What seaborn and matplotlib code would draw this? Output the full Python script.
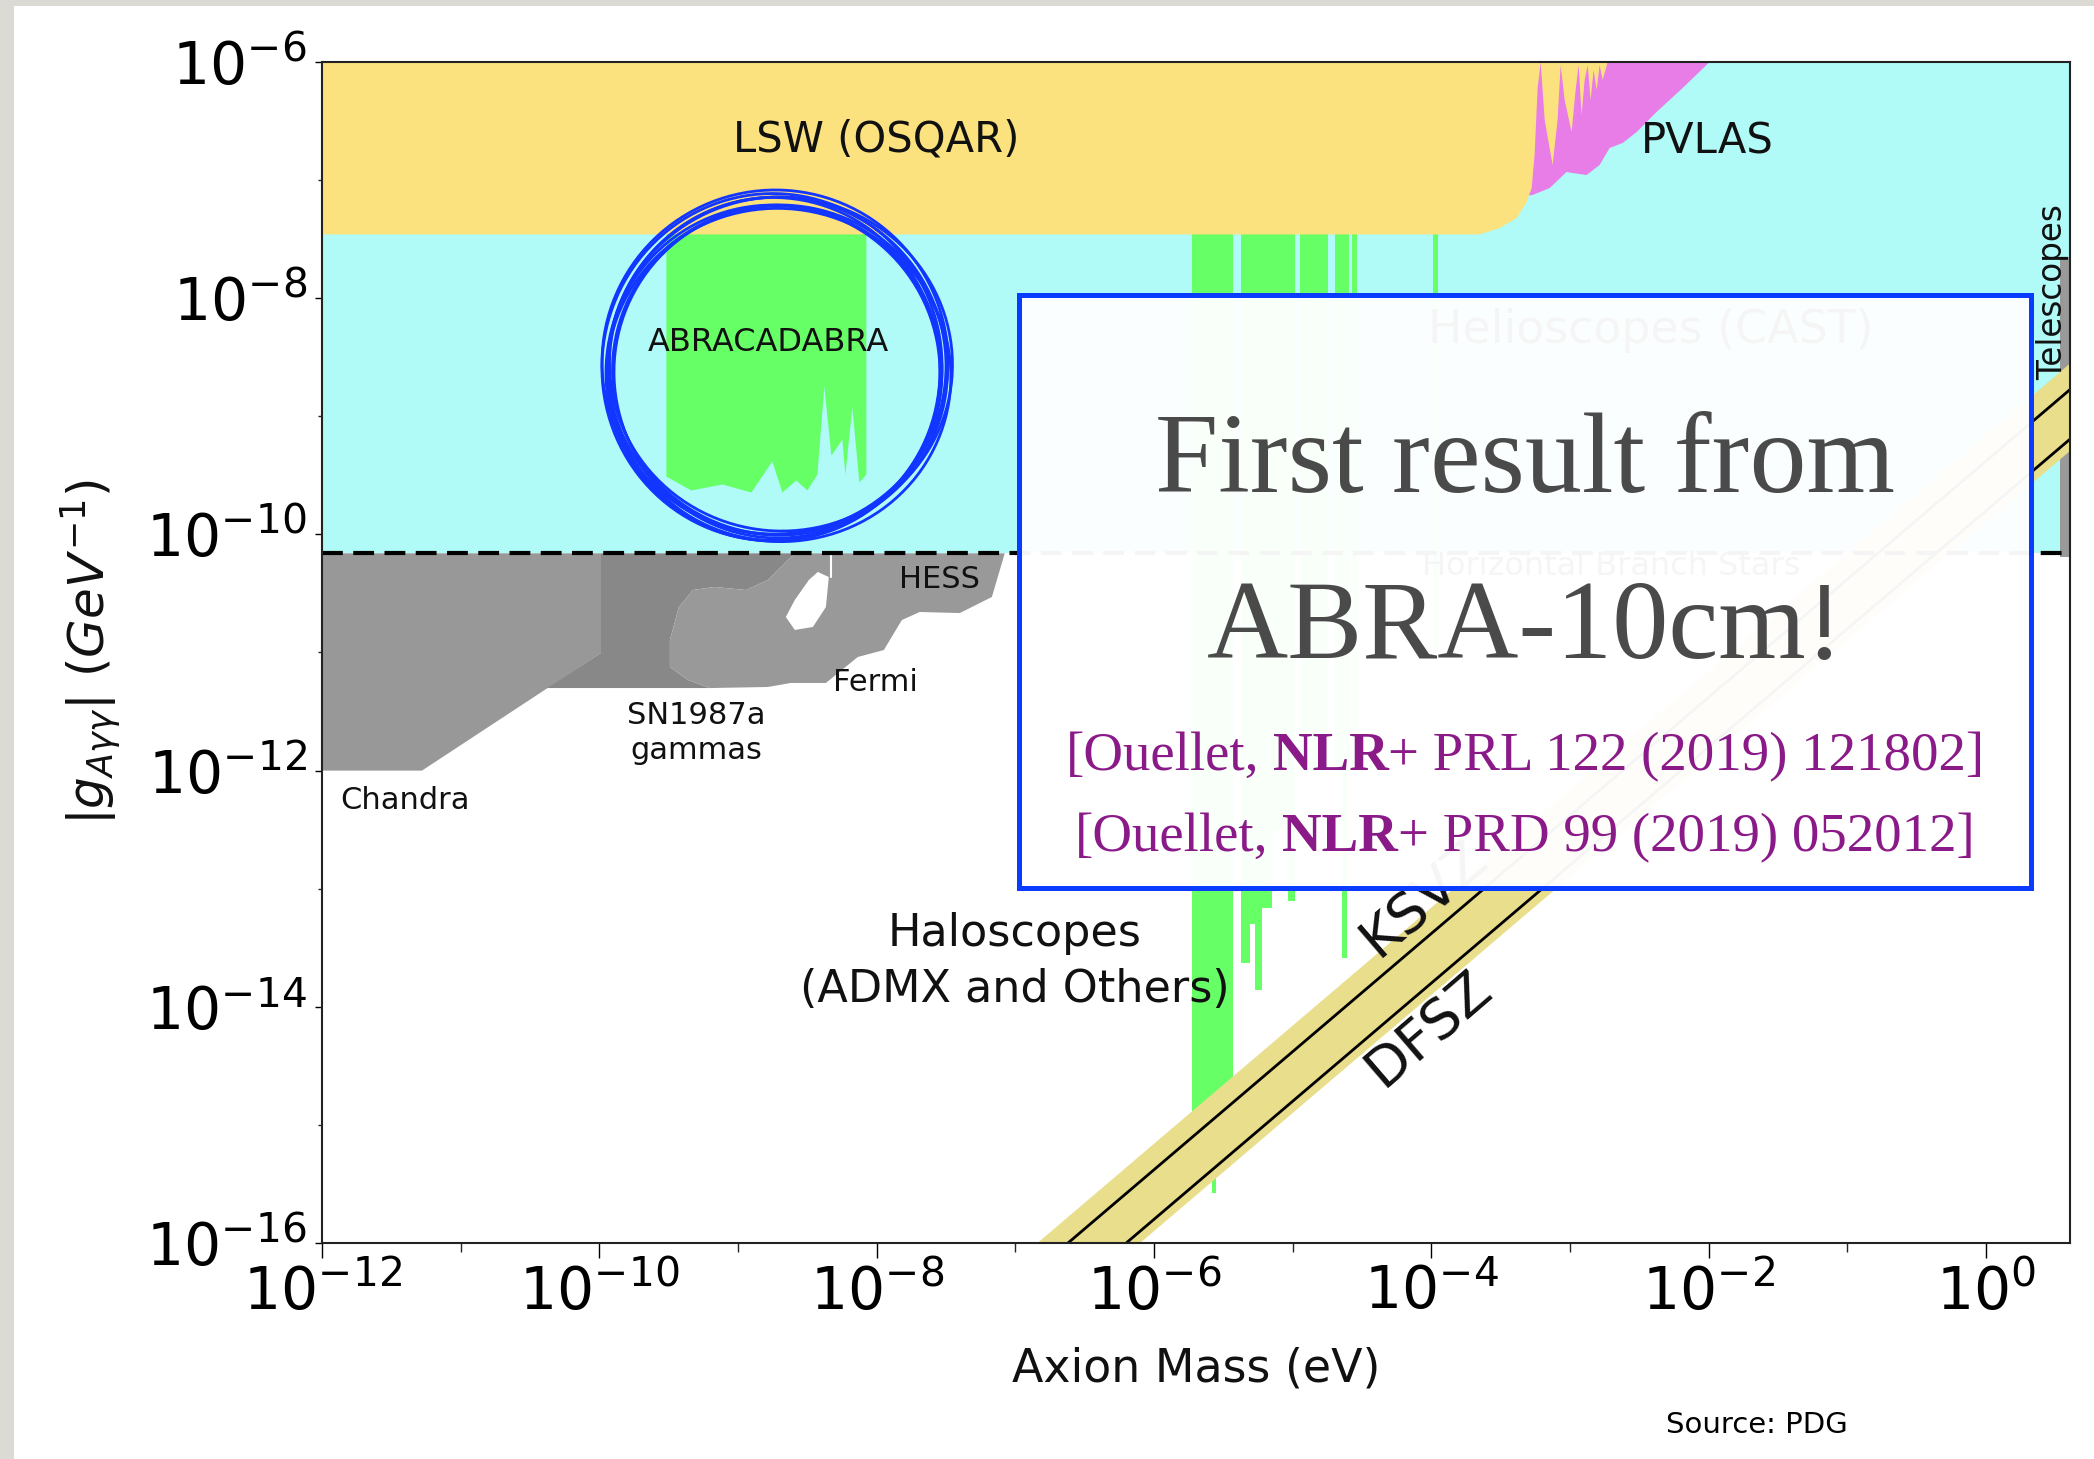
import numpy as np
import pandas as pd
import matplotlib
matplotlib.use('Agg')
import matplotlib.pyplot as plt
import seaborn as sns
from matplotlib.patches import Rectangle, Ellipse
from matplotlib.ticker import NullFormatter
from matplotlib.transforms import IdentityTransform

# values, as log10(mass / eV) and log10(g / GeV^-1)
x_min, x_max = 1e-12, 4.04
y_min, y_max = 1e-16, 1e-6
cast_logg = -10.16          # helioscope / HB stars dashed limit
lsw_logg = -7.46            # OSQAR floor

# LSW (OSQAR) right edge, with the oscillating tail
lsw_logm = [-12.0, -3.651, -3.507, -3.384, -3.312, -3.276, -3.255, -3.233, -3.211,
            -3.182, -3.125, -3.089, -3.067, -3.038, -2.988, -2.959, -2.937, -2.916,
            -2.894, -2.872, -2.851, -2.829, -2.807, -2.786, -2.764, -2.728]
lsw_edge = [-7.46, -7.46, -7.406, -7.321, -7.185, -7.067, -6.787, -6.220, -6.0,
            -6.491, -6.872, -6.491, -6.025, -6.322, -6.593, -6.237, -6.025, -6.449,
            -6.152, -6.025, -6.322, -6.068, -6.237, -6.025, -6.152, -6.0]

# PVLAS lower edge
pvlas_logm = [-3.30, -3.269, -3.146, -3.024, -2.981, -2.880, -2.786, -2.714, -2.620,
              -2.519, -2.375, -2.187, -1.993]
pvlas_edge = [-7.13, -7.126, -7.067, -6.931, -6.940, -6.957, -6.872, -6.728, -6.686,
              -6.593, -6.423, -6.220, -6.0]

# ABRACADABRA lower edge
abra_logm = [-9.520, -9.340, -9.116, -8.907, -8.756, -8.683, -8.583, -8.503, -8.431,
             -8.381, -8.330, -8.251, -8.229, -8.179, -8.128, -8.078]
abra_edge = [-9.506, -9.624, -9.573, -9.641, -9.378, -9.641, -9.539, -9.624, -9.489,
             -8.743, -9.328, -9.192, -9.489, -8.921, -9.556, -9.489]

# haloscope strips (ADMX and others)
halo_lo = [-5.727, -5.583, -5.554, -5.470, -5.374, -5.309, -5.273, -5.223, -5.151,
           -5.035, -4.949, -4.697, -4.646, -4.610, -4.574, -3.990]
halo_hi = [-5.583, -5.554, -5.470, -5.432, -5.309, -5.273, -5.223, -5.151, -5.035,
           -4.985, -4.747, -4.646, -4.610, -4.596, -4.538, -3.954]
halo_bot = [-15.19, -15.58, -15.19, -14.96, -13.63, -13.30, -13.86, -13.16, -12.50,
            -13.10, -12.00, -12.00, -13.59, -12.00, -12.00, -11.00]

# astrophysical bounds
chandra_logm = [-12.0, -9.988, -9.988, -11.279, -12.0]
chandra_logg = [cast_logg, cast_logg, -11.004, -12.0, -12.0]
sn_logm = [-9.988, -8.59, -8.784, -8.943, -9.167, -9.325, -9.426, -9.491, -9.491,
           -9.361, -9.203, -10.378, -9.988]
sn_logg = [cast_logg, cast_logg, -10.386, -10.471, -10.445, -10.471, -10.615, -10.894,
           -11.123, -11.233, -11.301, -11.301, -11.004]
fermi_logm = [-8.59, -8.784, -8.943, -9.167, -9.325, -9.426, -9.491, -9.491, -9.361,
              -9.203, -8.784, -8.619, -8.366, -8.136, -7.948, -7.818, -7.689, -7.400,
              -7.169, -7.076]
fermi_logg = [cast_logg, -10.386, -10.471, -10.445, -10.471, -10.615, -10.894, -11.123,
              -11.233, -11.301, -11.292, -11.258, -11.258, -11.038, -10.979, -10.725,
              -10.657, -10.666, -10.530, cast_logg]
hole_logm = [-8.590, -8.655, -8.590, -8.489, -8.424, -8.345, -8.366, -8.460]
hole_logg = [-10.809, -10.699, -10.555, -10.386, -10.318, -10.361, -10.615, -10.784]
tele_logm = [0.531, 0.606]
tele_logg = [-10.19, -7.65]

# QCD axion band and model lines
band_logm = [-6.84, 0.606, 0.606, -6.10]
band_logg = [-16.0, -8.554, -9.294, -16.0]
ksvz_logm = [-6.62, 0.606]
ksvz_logg = [-16.0, -8.774]
dfsz_logm = [-6.20, 0.606]
dfsz_logg = [-16.0, -9.194]

p = lambda v: 10.0 ** np.asarray(v)

sns.set_theme(style='ticks')
plt.rcParams['font.family'] = ['DejaVu Sans']

W, H = 2094, 1459
fig = plt.figure(figsize=(W / 100, H / 100), dpi=100)
fig.patch.set_facecolor('#dcdad4')
fig.add_artist(Rectangle((14, 0), W - 14, H - 6, transform=IdentityTransform(),
                         facecolor='white', edgecolor='none', zorder=-10))

ax = fig.add_axes([322 / W, 1 - 1243 / H, 1748 / W, 1181 / H])
ax.set_xscale('log')
ax.set_yscale('log')
ax.set_xlim(x_min, x_max)
ax.set_ylim(y_min, y_max)

cyan, yellow, pink, green = '#b0faf8', '#fce27e', '#e87de8', '#66ff66'

# helioscopes
ax.fill_between([x_min, x_max], 10 ** cast_logg, y_max, color=cyan, lw=0, zorder=1)

# haloscopes
ax.fill_between(p(abra_logm), p(abra_edge), 1e-7, color=green, lw=0, zorder=2)
for lo, hi, bot in zip(halo_lo, halo_hi, halo_bot):
    ax.fill_between(p([lo, hi]), 10 ** bot, 1e-7, color=green, lw=0, zorder=2)

# PVLAS + LSW
ax.fill(p(pvlas_logm + [pvlas_logm[0]]), p(pvlas_edge + [-6.0]), color=pink, lw=0, zorder=3)
ax.fill(p(lsw_logm + [-12.0]), p(lsw_edge + [-6.0]), color=yellow, lw=0, zorder=4)

# astrophysics
ax.fill(p(chandra_logm), p(chandra_logg), color='#989898', lw=0, zorder=2)
ax.fill(p(sn_logm), p(sn_logg), color='#888888', lw=0, zorder=2)
ax.fill(p(fermi_logm), p(fermi_logg), color='#999999', lw=0, zorder=2)
ax.fill(p(hole_logm), p(hole_logg), color='white', lw=0, zorder=3)
ax.plot(p([-8.33, -8.33]), p([cast_logg, -10.36]), color='white', lw=1.5, zorder=3)
ax.fill_between(p(tele_logm), 10 ** tele_logg[0], 10 ** tele_logg[1], color='#999999',
                lw=0, zorder=2)

# axion band
ax.fill(p(band_logm), p(band_logg), color='#e8de8c', lw=0, zorder=5)
lines = pd.DataFrame({'m': np.r_[p(ksvz_logm), p(dfsz_logm)],
                      'g': np.r_[p(ksvz_logg), p(dfsz_logg)],
                      'model': ['KSVZ', 'KSVZ', 'DFSZ', 'DFSZ']})
sns.lineplot(data=lines, x='m', y='g', units='model', estimator=None, color='black',
             lw=2, ax=ax, zorder=6, legend=False)

ax.plot([x_min, x_max], [10 ** cast_logg] * 2, color='black', lw=3,
        ls=(0, (5, 2.5)), zorder=7)

# labels on the plot
lab = dict(color='#111111', ha='center', va='center', zorder=8)
ax.text(p(-8.006), p(-6.66), 'LSW (OSQAR)', fontsize=30, **lab)
ax.text(p(-2.007), p(-6.67), 'PVLAS', fontsize=30, **lab)
ax.text(p(-8.784), p(-8.379), 'ABRACADABRA', fontsize=23, **lab)
ax.text(p(-2.418), p(-8.27), 'Helioscopes (CAST)', fontsize=33, **lab)
ax.text(p(-2.706), p(-10.276), 'Horizontal Branch Stars', fontsize=23, **lab)
ax.text(p(-7.544), p(-10.378), 'HESS', fontsize=22, **lab)
ax.text(p(-8.006), p(-11.25), 'Fermi', fontsize=22, **lab)
ax.text(p(-9.303), p(-11.682), 'SN1987a\ngammas', fontsize=22, linespacing=1.25, **lab)
ax.text(p(-11.40), p(-12.257), 'Chandra', fontsize=22, **lab)
ax.text(p(-7.004), p(-13.62), 'Haloscopes\n(ADMX and Others)', fontsize=32,
        linespacing=1.38, **lab)
ax.text(p(0.48), p(-7.95), 'Telescopes', fontsize=23.5, rotation=90, **lab)
ax.text(p(-4.386), p(-13.587), 'KSVZ', fontsize=40, rotation=40.7, rotation_mode='anchor',
        ha='left', va='baseline', color='#111111', zorder=8)
ax.text(p(-4.350), p(-14.688), 'DFSZ', fontsize=40, rotation=40.7, rotation_mode='anchor',
        ha='left', va='baseline', color='#111111', zorder=8)

# axes styling
ax.set_xticks(p(range(-12, 1, 2)))
ax.set_xticks(p(range(-11, 0, 2)), minor=True)
ax.set_yticks(p(range(-16, -5, 2)))
ax.set_yticks(p(range(-15, -6, 2)), minor=True)
ax.xaxis.set_minor_formatter(NullFormatter())
ax.yaxis.set_minor_formatter(NullFormatter())
ax.tick_params(axis='x', which='major', length=11, width=1, labelsize=42, pad=4,
               colors='black')
ax.tick_params(axis='x', which='minor', length=6.5, width=1)
ax.tick_params(axis='y', which='major', length=5, width=1, labelsize=42, pad=6,
               colors='black')
ax.tick_params(axis='y', which='minor', length=3, width=1)
for s in ax.spines.values():
    s.set_color('#222222')
    s.set_linewidth(1.5)
    s.set_zorder(9)

ax.set_xlabel('Axion Mass (eV)', fontsize=33, color='#111111')
ax.xaxis.set_label_coords(0.5, -0.088)
ax.set_ylabel(r'$|g_{A\gamma\gamma}|\ (GeV^{-1})$', fontsize=36, color='#111111')
ax.yaxis.set_label_coords(-0.114, 0.5)

fig.text(1757, H - 1425, 'Source: PDG', fontsize=21, ha='center', va='center',
         color='black', transform=IdentityTransform())

# the hand-drawn circle around ABRACADABRA
ring_dx = [0, -3, 4, -2, 3, 1, -5, -4, 2]
ring_dy = [0, 3, -2, -4, 4, 6, 1, 7, 9]
ring_dw = [0, -6, 5, 8, -3, -10, 2, -4, 6]
ring_dh = [0, 5, -4, 6, -8, -6, 9, -2, -5]
ring_ang = [0, 4, -5, 8, -3, 2, -7, 11, -9]
for dx, dy, dw, dh, a in zip(ring_dx, ring_dy, ring_dw, ring_dh, ring_ang):
    fig.add_artist(Ellipse((777 + dx, H - 366 - dy), 338 + dw, 338 + dh, angle=a,
                           transform=IdentityTransform(), fill=False,
                           edgecolor='#1236ff', lw=2.0, zorder=30))

# announcement box
fig.add_artist(Rectangle((1019, H - 888), 1012, 593, transform=IdentityTransform(),
                         facecolor=(1, 1, 1, 0.965), edgecolor='#0a3cff', lw=3.6,
                         zorder=20))
serif = 'Liberation Serif'
fig.text(1525, H - 492, 'First result from', fontsize=82, family=serif, color='#4a4a4a',
         ha='center', va='baseline', transform=IdentityTransform(), zorder=21)
fig.text(1525, H - 658, 'ABRA-10cm!', fontsize=81, family=serif, color='#4a4a4a',
         ha='center', va='baseline', transform=IdentityTransform(), zorder=21)

renderer = fig.canvas.get_renderer()


def text_width(s, size, weight='normal'):
    t = fig.text(0, 0, s, fontsize=size, family=serif, fontweight=weight)
    w = t.get_window_extent(renderer).width
    t.remove()
    return w


def rich_line(parts, cx, y, size, color):
    space = text_width('x x', size) - text_width('xx', size)
    widths = [text_width(s, size, w) for s, w, _ in parts]
    total = sum(widths) + space * sum(1 for *_, gap in parts if gap)
    x = cx - total / 2
    for (s, w, gap), wd in zip(parts, widths):
        fig.text(x, y, s, fontsize=size, family=serif, fontweight=w, color=color,
                 ha='left', va='baseline', transform=IdentityTransform(), zorder=21)
        x += wd + (space if gap else 0)


purple = '#8b1a89'
rich_line([('[Ouellet,', 'normal', True), ('NLR', 'bold', False),
           ('+ PRL 122 (2019) 121802]', 'normal', False)], 1525, H - 770, 39.5, purple)
rich_line([('[Ouellet,', 'normal', True), ('NLR', 'bold', False),
           ('+ PRD 99 (2019) 052012]', 'normal', False)], 1525, H - 851, 39.5, purple)

fig.savefig('out.png', dpi=100, facecolor=fig.get_facecolor())
